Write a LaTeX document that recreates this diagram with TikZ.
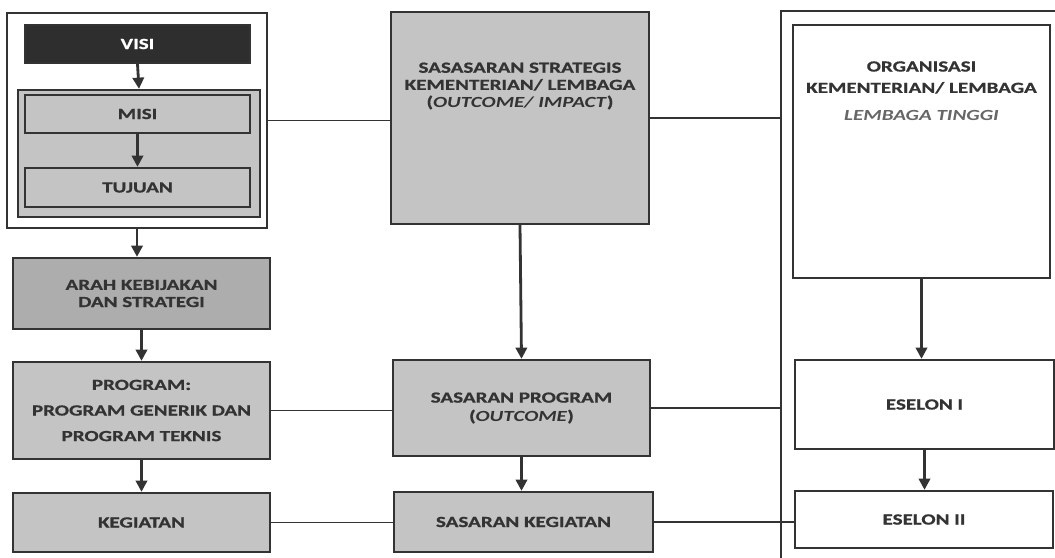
\documentclass[tikz,border=0pt]{standalone}
\usepackage{fontspec}
\setmainfont{Carlito}[FakeStretch=1.36,BoldFeatures={FakeBold=0.8}]
\usetikzlibrary{arrows.meta}
\definecolor{boxgray}{HTML}{C4C4C4}
\definecolor{boxdark}{HTML}{ADADAD}
\definecolor{ink}{HTML}{333333}
\definecolor{visifill}{HTML}{2E2E2E}

\begin{document}
\begin{tikzpicture}[x=0.025cm,y=-0.025cm,
  bx/.style 2 args={draw=ink,line width=1.6pt,minimum width=#1*0.025cm,minimum height=#2*0.025cm,inner sep=0pt},
  gbox/.style={fill=boxgray},
  wbox/.style={fill=white},
  txt/.style={align=center,text=ink,font=\fontsize{11}{12.2}\selectfont\bfseries},
  arr/.style={->,>={Triangle[length=8pt,width=8pt]},draw=ink,line width=2pt},
  con/.style={draw=ink,line width=1.3pt}]

\useasboundingbox (0,0) rectangle (1055,558);

\begin{scope}
\node[bx={260}{215},wbox] (lframe) at (137,120.5) {};
\node[bx={225}{38},fill=visifill,txt,text=white] (visi) at (137.5,44) {VISI};
\node[bx={242}{127},gbox] (inner) at (139,153.5) {};
\node[bx={225}{38},gbox,txt] (misi) at (137.5,114) {MISI};
\node[bx={225}{39},gbox,txt] (tujuan) at (137.5,187.5) {TUJUAN};
\node[bx={257}{71},fill=boxdark,txt] (arah) at (141.5,293.5) {ARAH KEBIJAKAN\\DAN STRATEGI};
\node[bx={257}{97},gbox,txt] (program) at (141.5,410.5) {PROGRAM:\\[6pt]PROGRAM GENERIK DAN\\[6pt]PROGRAM TEKNIS};
\node[bx={257}{59},gbox,txt] (kegiatan) at (141.5,522.5) {KEGIATAN};

\draw[arr] (visi.south) -- (inner.north);
\draw[arr] (misi.south) -- (tujuan.north);
\draw[arr] (lframe.south) -- (lframe.south |- arah.north);
\draw[arr] (arah.south) -- (program.north);
\draw[arr] (program.south) -- (kegiatan.north);
\end{scope}

\begin{scope}
\node[bx={258}{212},gbox] (ss) at (520,118) {};
\node[txt] (sstxt) at (520,86) {SASASARAN STRATEGIS\\KEMENTERIAN/ LEMBAGA\\(\textit{OUTCOME/ IMPACT})};
\node[bx={257}{96},gbox,txt] (sp) at (521.5,408) {SASARAN PROGRAM\\[1pt](\textit{OUTCOME})};
\node[bx={259}{60},gbox,txt] (sk) at (523.5,522) {SASARAN KEGIATAN};

\draw[arr] (ss.south) -- (sp.north);
\draw[arr] (sp.south) -- (sp.south |- sk.north);
\end{scope}

\begin{scope}
\coordinate (rtop) at (781,11);
\coordinate (rbot) at (781,560);
\coordinate (rend) at (1057,11);
\draw[con,line width=1.6pt] (rbot) -- (rtop) -- (rend);

\node[bx={257}{253},wbox] (org) at (921.5,151.5) {};
\node[txt] (orgtxt) at (921.5,77.5) {ORGANISASI\\[3pt]KEMENTERIAN/ LEMBAGA};
\node[txt,text=ink!75,font=\fontsize{11}{12.2}\selectfont\bfseries\itshape] (lembaga) at (921.5,115) {LEMBAGA TINGGI};
\node[bx={259}{89},wbox,txt] (es1) at (924.5,404.5) {ESELON I};
\node[bx={258}{57},wbox,txt] (es2) at (924,519.5) {ESELON II};

\draw[arr] (org.south) -- (org.south |- es1.north);
\draw[arr] (es1.south) -- (es1.south |- es2.north);
\end{scope}

\draw[con] (lframe.east) -- (lframe.east -| ss.west);
\draw[con] (ss.east) -- (ss.east -| rtop);
\draw[con] (program.east) -- (program.east -| sp.west);
\draw[con] (sp.east) -- (sp.east -| rtop);
\draw[con] (kegiatan.east) -- (kegiatan.east -| sk.west);
\draw[con] (sk.east) -- (sk.east -| es2.west);

\end{tikzpicture}
\end{document}
